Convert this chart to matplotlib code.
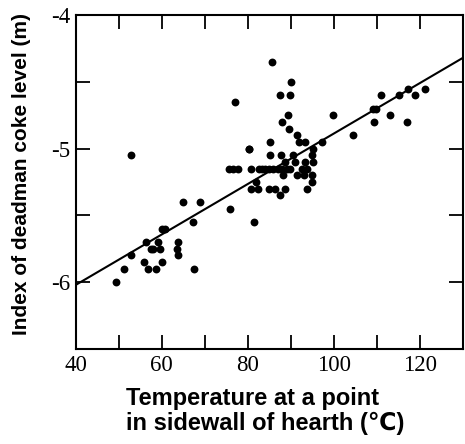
import matplotlib.pyplot as plt
import numpy as np

# temperature (deg C) and deadman coke level index (m)
temp = [49.4, 51.2, 52.8, 52.9, 56.2, 55.9, 56.8, 57.5, 57.9, 58.6, 59.2, 59.6,
        60.0, 60.0, 60.8, 63.8, 63.6, 63.8, 64.8, 67.3, 67.5, 68.8,
        75.8, 77.1, 75.6, 76.5, 77.8, 80.2, 80.6, 81.4, 81.9, 82.3,
        80.8, 82.5, 83.2, 84.0, 84.8, 85.8, 86.9, 87.8, 89.1, 89.8, 92.5, 93.8,
        84.8, 86.2, 88.7, 93.7, 87.5,
        85.5, 90.0, 87.5, 89.8, 88.6, 91.0, 93.2, 95.0,
        85.2, 87.7, 90.5, 94.8, 85.2, 91.8, 93.2, 97.1,
        80.2, 95.0, 91.3, 89.6, 87.9, 89.2,
        88.1, 91.3, 93.1, 94.8, 94.8,
        99.8, 104.5, 109.1, 109.8, 109.3, 111.0, 113.1, 115.2,
        116.9, 117.2, 118.7, 121.2]
level = [-6.0, -5.9, -5.8, -5.05, -5.7, -5.85, -5.9, -5.75, -5.75, -5.9, -5.7, -5.75,
         -5.85, -5.6, -5.6, -5.7, -5.75, -5.8, -5.4, -5.55, -5.9, -5.4,
         -5.45, -4.65, -5.15, -5.15, -5.15, -5.0, -5.3, -5.55, -5.25, -5.3,
         -5.15, -5.15, -5.15, -5.15, -5.15, -5.15, -5.15, -5.15, -5.15, -5.15, -5.15, -5.15,
         -5.3, -5.3, -5.3, -5.3, -5.35,
         -4.35, -4.5, -4.6, -4.6, -5.1, -5.1, -5.1, -5.1,
         -4.95, -5.05, -5.05, -5.05, -5.05, -4.95, -4.95, -4.95,
         -5.0, -5.0, -4.9, -4.85, -4.8, -4.75,
         -5.2, -5.2, -5.2, -5.2, -5.25,
         -4.75, -4.9, -4.7, -4.7, -4.8, -4.6, -4.75, -4.6,
         -4.8, -4.55, -4.6, -4.55]

# regression line: level = fit_a + fit_b * temp
fit_a = -6.776
fit_b = 0.0189

plt.rcParams['font.family'] = ['Liberation Serif', 'DejaVu Serif']

fig = plt.figure(figsize=(4.65, 4.44), dpi=100)
ax = fig.add_axes([0.163, 0.214, 0.833, 0.752])

ax.scatter(temp, level, s=32, color='black', zorder=3, linewidths=0)
xs = np.array([40, 130])
ax.plot(xs, fit_a + fit_b * xs, color='black', lw=1.5)

ax.set_xlim(40, 130)
ax.set_ylim(-6.5, -4)

ax.set_xticks([40, 60, 80, 100, 120])
ax.set_xticks([50, 70, 90, 110, 130], minor=True)
ax.set_yticks([-6, -5, -4])
ax.set_yticks([-6.5, -5.5, -4.5], minor=True)
ax.set_yticklabels(['-6', '-5', '-4'])
ax.tick_params(which='both', direction='in', length=10, width=1.3,
               top=True, right=True, labelsize=16.5, pad=4)

for s in ax.spines.values():
    s.set_linewidth(1.5)

sans = ['Liberation Sans', 'DejaVu Sans']
ax.set_xlabel('Temperature at a point\nin sidewall of hearth (\u2103)', family=sans,
              fontweight='bold', fontsize=17, linespacing=1.1, multialignment='left')
ax.xaxis.set_label_coords(0.49, -0.115)
ax.set_ylabel('Index of deadman coke level (m)', family=sans,
              fontweight='bold', fontsize=15)
ax.yaxis.set_label_coords(-0.115, 0.524)

fig.savefig('out.png', dpi=100)
